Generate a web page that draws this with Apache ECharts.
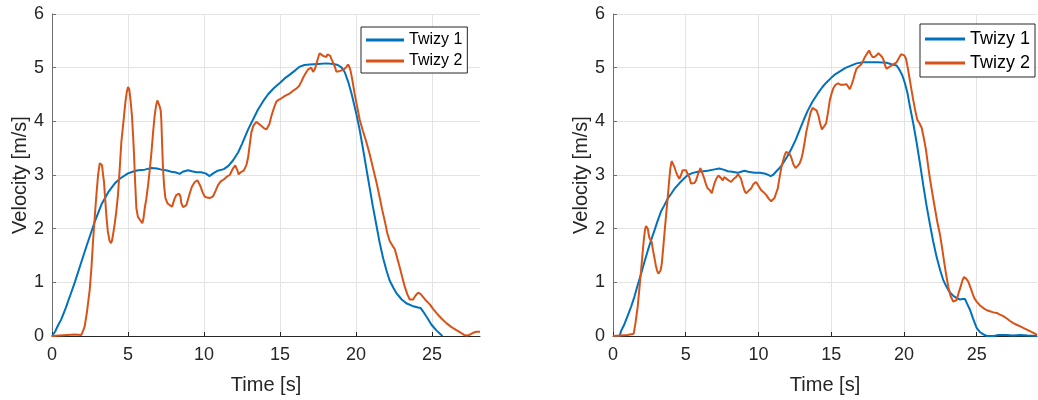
<!DOCTYPE html>
<html>
<head>
<meta charset="utf-8">
<script src="https://cdn.jsdelivr.net/npm/echarts@6/dist/echarts.min.js"></script>
<style>
  html, body { margin: 0; padding: 0; background: #fff; }
  #chart { width: 1038px; height: 400px; }
</style>
</head>
<body>
<div id="chart"></div>
<script>
// ---- Run A (left panel) ----
const runA_twizy1_t = [0,0.2,0.4,0.61,0.9,1.2,1.5,1.93,2.3,2.8,3.25,3.7,4.12,4.5,5.0,5.3,5.66,6.1,6.54,6.9,7.2,7.5,7.85,8.1,8.4,8.6,8.95,9.2,9.5,9.8,10.1,10.37,10.6,10.9,11.3,11.6,11.9,12.24,12.5,12.9,13.2,13.55,13.9,14.2,14.6,15.0,15.3,15.64,16.0,16.3,16.6,16.95,17.5,18.05,18.5,18.8,19.05,19.25,19.5,19.7,20.0,20.23,20.46,20.7,20.9,21.1,21.34,21.55,21.78,22.0,22.2,22.45,22.65,23.0,23.3,23.7,24.08,24.25,24.4,24.7,24.96,25.3,25.68];
const runA_twizy1_v = [0,0.08,0.2,0.31,0.52,0.76,1.0,1.38,1.7,2.12,2.45,2.68,2.84,2.94,3.03,3.06,3.09,3.1,3.13,3.12,3.1,3.09,3.06,3.05,3.02,3.06,3.09,3.07,3.05,3.05,3.03,2.98,3.03,3.08,3.11,3.17,3.27,3.42,3.58,3.85,4.02,4.22,4.38,4.5,4.62,4.72,4.8,4.87,4.95,5.02,5.05,5.06,5.07,5.08,5.07,5.05,5.0,4.92,4.72,4.52,4.16,3.85,3.48,3.08,2.75,2.42,2.06,1.74,1.45,1.22,1.04,0.9,0.8,0.68,0.61,0.56,0.53,0.52,0.46,0.33,0.21,0.1,0.0];

const runA_twizy2_t = [0,0.5,1.0,1.5,1.93,2.05,2.15,2.3,2.48,2.6,2.7,2.82,2.92,3.03,3.14,3.22,3.29,3.36,3.42,3.5,3.57,3.67,3.79,3.88,3.95,4.05,4.12,4.22,4.34,4.45,4.56,4.7,4.82,4.92,5.0,5.08,5.17,5.26,5.33,5.39,5.47,5.55,5.65,5.77,5.86,5.94,6.02,6.1,6.2,6.32,6.43,6.54,6.65,6.75,6.85,6.93,7.0,7.08,7.15,7.19,7.24,7.3,7.38,7.46,7.6,7.74,7.9,8.05,8.18,8.36,8.45,8.5,8.62,8.75,8.84,8.95,9.06,9.2,9.39,9.5,9.56,9.66,9.78,9.9,10.04,10.2,10.37,10.59,10.75,10.92,11.1,11.36,11.5,11.69,11.9,12.05,12.13,12.2,12.28,12.4,12.46,12.6,12.68,12.8,12.9,13.0,13.11,13.25,13.44,13.55,13.66,13.77,13.95,14.1,14.2,14.3,14.43,14.6,14.76,14.9,15.09,15.3,15.64,15.85,16.07,16.25,16.4,16.55,16.73,16.85,16.95,17.05,17.17,17.3,17.39,17.5,17.6,17.7,17.83,17.95,18.05,18.12,18.2,18.3,18.38,18.53,18.62,18.7,18.85,19.04,19.25,19.38,19.47,19.55,19.63,19.75,19.9,20.05,20.24,20.45,20.68,20.9,21.12,21.35,21.56,21.72,21.89,22.05,22.21,22.4,22.54,22.7,22.87,23.05,23.2,23.38,23.53,23.75,23.9,24.08,24.25,24.4,24.6,24.85,25.05,25.28,25.6,25.94,26.25,26.6,26.9,27.1,27.26,27.45,27.7,27.9,28.15];
const runA_twizy2_v = [0.0,0.01,0.02,0.03,0.02,0.1,0.18,0.45,0.86,1.3,1.77,2.25,2.63,3.0,3.22,3.25,3.18,3.0,2.87,2.55,2.26,1.95,1.77,1.73,1.78,1.95,2.08,2.3,2.63,3.1,3.61,4.0,4.34,4.55,4.64,4.6,4.38,4.1,3.75,3.42,2.85,2.38,2.22,2.17,2.17,2.1,2.2,2.38,2.55,2.81,3.1,3.42,3.8,4.1,4.3,4.39,4.37,4.28,4.2,4.03,3.6,3.12,2.78,2.57,2.47,2.44,2.41,2.55,2.63,2.65,2.6,2.48,2.4,2.43,2.44,2.55,2.66,2.78,2.87,2.9,2.9,2.85,2.78,2.68,2.6,2.58,2.57,2.6,2.7,2.81,2.88,2.93,2.97,3.0,3.12,3.18,3.17,3.08,3.01,3.05,3.06,3.08,3.12,3.2,3.33,3.55,3.79,3.92,3.99,3.99,3.94,3.91,3.87,3.85,3.83,3.95,4.1,4.25,4.37,4.4,4.43,4.47,4.52,4.57,4.61,4.66,4.74,4.83,4.92,4.97,4.95,5.0,4.92,4.98,5.07,5.18,5.27,5.25,5.22,5.24,5.2,5.25,5.27,5.22,5.16,5.07,5.0,4.93,4.93,4.95,4.98,5.02,5.06,5.02,4.95,4.78,4.52,4.3,4.03,3.82,3.61,3.38,3.12,2.85,2.57,2.35,2.14,1.92,1.77,1.68,1.62,1.46,1.28,1.08,0.92,0.77,0.68,0.68,0.75,0.81,0.78,0.73,0.66,0.59,0.51,0.43,0.33,0.24,0.17,0.11,0.06,0.02,0.01,0.02,0.06,0.08,0.08];

// ---- Run B (right panel) ----
const runB_twizy1_t = [0,0.46,0.55,0.75,1.0,1.25,1.47,1.7,1.93,2.15,2.39,2.6,2.84,3.05,3.3,3.5,3.76,4.0,4.22,4.45,4.68,4.9,5.14,5.5,5.83,6.2,6.51,6.9,7.3,7.6,7.9,8.2,8.58,8.8,9.04,9.3,9.72,10.1,10.4,10.6,10.83,11.0,11.2,11.45,11.67,11.95,12.25,12.55,12.82,13.1,13.39,13.7,14.08,14.4,14.66,15.0,15.3,15.6,15.95,16.28,16.74,17.2,17.66,18.2,18.81,19.2,19.5,19.6,19.72,19.9,20.07,20.25,20.41,20.65,20.87,21.1,21.33,21.55,21.79,22.0,22.25,22.5,22.71,22.9,23.05,23.2,23.39,23.6,23.85,24.05,24.2,24.35,24.54,24.75,25.0,25.2,25.46,25.7,26.2,26.5,27.0,27.5,28.0,28.5,29.15];
const runB_twizy1_v = [0,0.0,0.09,0.2,0.37,0.55,0.73,0.95,1.16,1.37,1.59,1.77,1.96,2.13,2.32,2.42,2.56,2.65,2.74,2.81,2.88,2.94,3.0,3.04,3.06,3.07,3.08,3.1,3.12,3.1,3.07,3.06,3.04,3.06,3.08,3.06,3.04,3.04,3.03,3.01,2.98,3.0,3.06,3.13,3.21,3.33,3.48,3.65,3.83,4.02,4.2,4.36,4.52,4.64,4.72,4.81,4.88,4.93,4.99,5.03,5.08,5.1,5.1,5.1,5.09,5.06,5.04,5.02,4.95,4.85,4.71,4.52,4.28,3.95,3.61,3.22,2.81,2.44,2.08,1.78,1.47,1.22,1.04,0.93,0.86,0.8,0.75,0.71,0.68,0.69,0.69,0.6,0.49,0.33,0.15,0.08,0.03,0.0,0.0,0.02,0.02,0.01,0.02,0.01,0.0];

const runB_twizy2_t = [0,0.5,1.0,1.42,1.55,1.7,1.82,1.93,2.02,2.11,2.2,2.27,2.33,2.39,2.45,2.5,2.58,2.66,2.75,2.84,2.94,3.03,3.12,3.19,3.27,3.35,3.44,3.53,3.65,3.76,3.85,3.94,4.03,4.13,4.22,4.33,4.45,4.56,4.68,4.79,4.9,5.02,5.13,5.25,5.36,5.48,5.6,5.71,5.85,6.01,6.12,6.28,6.4,6.51,6.65,6.79,6.88,6.97,7.1,7.25,7.4,7.55,7.65,7.78,7.95,8.12,8.3,8.46,8.6,8.69,8.8,8.92,9.05,9.15,9.3,9.5,9.65,9.84,10.0,10.18,10.35,10.53,10.7,10.87,10.98,11.1,11.2,11.33,11.45,11.56,11.68,11.79,11.9,12.02,12.13,12.25,12.4,12.55,12.7,12.82,12.95,13.05,13.17,13.28,13.43,13.58,13.72,13.85,14.0,14.13,14.25,14.36,14.5,14.66,14.8,14.91,15.03,15.14,15.3,15.48,15.65,15.83,16.06,16.18,16.28,16.4,16.51,16.62,16.74,16.9,17.09,17.2,17.32,17.48,17.61,17.72,17.84,17.98,18.12,18.25,18.35,18.5,18.62,18.72,18.81,18.98,19.15,19.32,19.5,19.62,19.72,19.82,19.91,20.02,20.14,20.25,20.37,20.5,20.64,20.78,20.92,21.08,21.22,21.36,21.51,21.65,21.79,21.96,22.13,22.3,22.48,22.62,22.75,22.9,23.05,23.2,23.39,23.5,23.62,23.76,23.9,24.02,24.13,24.28,24.43,24.58,24.72,24.85,25.0,25.23,25.46,25.7,25.92,26.15,26.38,26.6,26.83,27.05,27.3,27.52,27.75,28.0,28.2,28.45,28.67,28.9,29.15];
const runB_twizy2_v = [0,0.01,0.02,0.04,0.25,0.55,0.9,1.22,1.5,1.77,1.98,2.05,2.04,2.0,1.9,1.83,1.8,1.75,1.6,1.47,1.32,1.22,1.16,1.16,1.22,1.34,1.6,1.89,2.25,2.57,2.86,3.12,3.26,3.28,3.15,3.06,2.98,2.93,3.0,3.09,3.12,3.09,3.02,2.96,2.84,2.81,2.85,2.9,3.02,3.13,3.05,2.93,2.82,2.75,2.72,2.66,2.75,2.84,2.93,2.99,2.95,2.9,2.96,2.96,2.9,2.87,2.93,2.96,3.02,3.03,2.93,2.81,2.7,2.66,2.7,2.75,2.83,2.87,2.8,2.72,2.68,2.63,2.56,2.51,2.53,2.57,2.65,2.75,2.95,3.12,3.25,3.36,3.43,3.45,3.4,3.33,3.2,3.13,3.17,3.21,3.3,3.42,3.6,3.79,3.98,4.16,4.25,4.28,4.2,4.1,3.95,3.85,3.9,3.97,4.2,4.4,4.52,4.61,4.68,4.71,4.68,4.68,4.69,4.64,4.6,4.68,4.77,4.88,4.98,5.02,5.07,5.13,5.2,5.27,5.32,5.25,5.2,5.2,5.23,5.27,5.29,5.2,5.13,5.03,4.98,5.01,5.04,5.07,5.1,5.16,5.21,5.25,5.26,5.23,5.17,5.02,4.83,4.62,4.4,4.2,4.03,3.96,3.88,3.7,3.48,3.2,2.93,2.65,2.38,2.12,1.89,1.65,1.41,1.15,0.92,0.75,0.64,0.62,0.67,0.8,0.92,1.03,1.1,1.07,1.01,0.9,0.79,0.7,0.64,0.57,0.52,0.48,0.46,0.44,0.43,0.4,0.37,0.33,0.28,0.24,0.21,0.18,0.15,0.12,0.09,0.06,0.02];

const seriesNames = ['Twizy 1', 'Twizy 2'];
const yTicks = [0, 1, 2, 3, 4, 5, 6];

const BLUE = '#0072BD';
const ORANGE = '#D95319';
const FONT = 'Liberation Sans, Arial, Helvetica, sans-serif';
const INK = '#262626';

function pairs(ts, vs) { return ts.map((t, i) => [t, vs[i]]); }

function makeX(gridIndex, maxT) {
  return {
    type: 'value', gridIndex, min: 0, max: maxT, interval: 5,
    name: 'Time [s]', nameLocation: 'middle', nameGap: 39,
    nameTextStyle: { fontFamily: FONT, fontSize: 20, color: INK },
    axisLine: { show: true, onZero: false, lineStyle: { color: INK, width: 1 } },
    axisTick: { show: true, inside: true, length: 4, lineStyle: { color: INK } },
    axisLabel: { fontFamily: FONT, fontSize: 18, color: INK, margin: 10, showMaxLabel: false,
      formatter: v => (v % 5 === 0 ? String(v) : '') },
    splitLine: { show: true, showMinLine: false, showMaxLine: false, lineStyle: { color: '#e3e3e3', width: 1 } }
  };
}

function makeY(gridIndex) {
  return {
    type: 'value', gridIndex, min: yTicks[0], max: yTicks[yTicks.length - 1], interval: 1,
    name: 'Velocity [m/s]', nameLocation: 'middle', nameGap: 22,
    nameTextStyle: { fontFamily: FONT, fontSize: 20, color: INK },
    axisLine: { show: true, lineStyle: { color: '#6e6e6e', width: 1 } },
    axisTick: { show: true, inside: true, length: 4, lineStyle: { color: '#6e6e6e' } },
    axisLabel: { fontFamily: FONT, fontSize: 18, color: INK, margin: 8 },
    splitLine: { show: true, showMinLine: false, lineStyle: { color: '#e3e3e3', width: 1 } }
  };
}

function makeLine(name, data, color, idx) {
  return {
    name, type: 'line', data, xAxisIndex: idx, yAxisIndex: idx,
    symbol: 'none', showSymbol: false, clip: true,
    lineStyle: { color, width: 2 }, itemStyle: { color }
  };
}

function makeLegend(left, top, fontSize, itemGap, itemWidth, padding) {
  return {
    data: seriesNames, orient: 'vertical', left, top,
    itemWidth, itemHeight: 14, itemGap, padding,
    borderColor: INK, borderWidth: 1, backgroundColor: '#fff',
    textStyle: { fontFamily: FONT, fontSize, color: '#000' },
    icon: 'path://M0,0 L40,0 L40,3 L0,3 Z'
  };
}

const chart = echarts.init(document.getElementById('chart'), null, { renderer: 'canvas' });
chart.setOption({
  animation: false,
  backgroundColor: '#fff',
  grid: [
    { left: 52, top: 14, width: 428, height: 326 },
    { left: 613, top: 14, width: 424, height: 326 }
  ],
  xAxis: [makeX(0, 28.15), makeX(1, 29.15)],
  yAxis: [makeY(0), makeY(1)],
  legend: [
    makeLegend(361, 27, 16, 5, 38, [5, 5, 4, 5]),
    makeLegend(920, 24, 18, 6, 40, [6, 5, 5, 5])
  ],
  series: [
    makeLine(seriesNames[0], pairs(runA_twizy1_t, runA_twizy1_v), BLUE, 0),
    makeLine(seriesNames[1], pairs(runA_twizy2_t, runA_twizy2_v), ORANGE, 0),
    makeLine(seriesNames[0], pairs(runB_twizy1_t, runB_twizy1_v), BLUE, 1),
    makeLine(seriesNames[1], pairs(runB_twizy2_t, runB_twizy2_v), ORANGE, 1)
  ]
});
</script>
</body>
</html>
